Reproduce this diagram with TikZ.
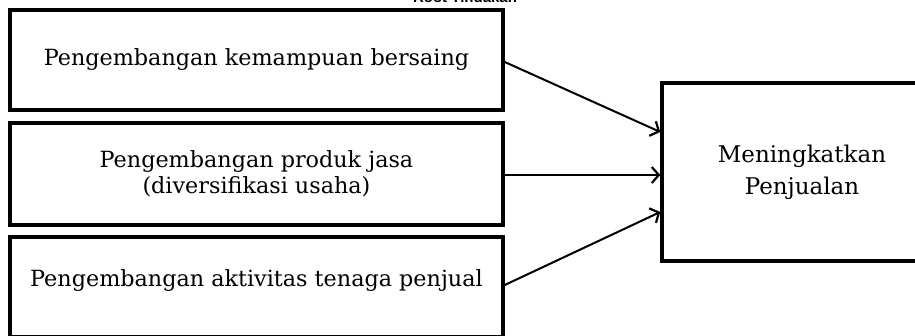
\documentclass[tikz,border=0pt]{standalone}
\usepackage{fontspec}
\setmainfont{DejaVu Serif}
\newfontfamily\topfont{Liberation Sans}
\usetikzlibrary{arrows.meta}
\begin{document}
\begin{tikzpicture}[x=1pt,y=-1pt,
  boxstyle/.style={draw=black, line width=3.5pt, rectangle, inner sep=0pt, align=center},
  smalltext/.style={font=\fontsize{22.3}{26}\selectfont},
  bigtext/.style={font=\fontsize{23}{32}\selectfont},
  arr/.style={line width=2pt, -{Straight Barb[length=7pt,width=16pt,line width=2.2pt]}}]
\useasboundingbox (0,0) rectangle (915,336);
\clip (0,0) rectangle (915,336);
\node[anchor=base, font=\topfont\bfseries\fontsize{15}{18}\selectfont] (title) at (465,3) {Root Tindakan};
\node[boxstyle, smalltext, minimum width=493pt, minimum height=100pt] (b1) at (256.5,60) {Pengembangan kemampuan bersaing};
\node[boxstyle, smalltext, minimum width=493pt, minimum height=102pt] (b2) at (256.5,174) {Pengembangan produk jasa\\(diversifikasi usaha)};
\node[boxstyle, smalltext, minimum width=493pt, minimum height=100pt] (b3) at (256.5,287) {};
\node[smalltext, inner sep=0pt] (b3t) at (256.5,281) {Pengembangan aktivitas tenaga penjual};
\node[boxstyle, bigtext, minimum width=280pt, minimum height=178pt] (r) at (802,172) {Meningkatkan\\Penjualan};
\coordinate (rt) at ([yshift=40pt]r.west);
\coordinate (rb) at ([yshift=-40pt]r.west);
\draw[arr] ([yshift=-2pt]b1.east) -- (rt);
\draw[arr] ([yshift=-1pt]b2.east) -- ([yshift=-1pt]b2.east -| r.west);
\draw[arr] ([yshift=2pt]b3.east) -- (rb);
\end{tikzpicture}
\end{document}
